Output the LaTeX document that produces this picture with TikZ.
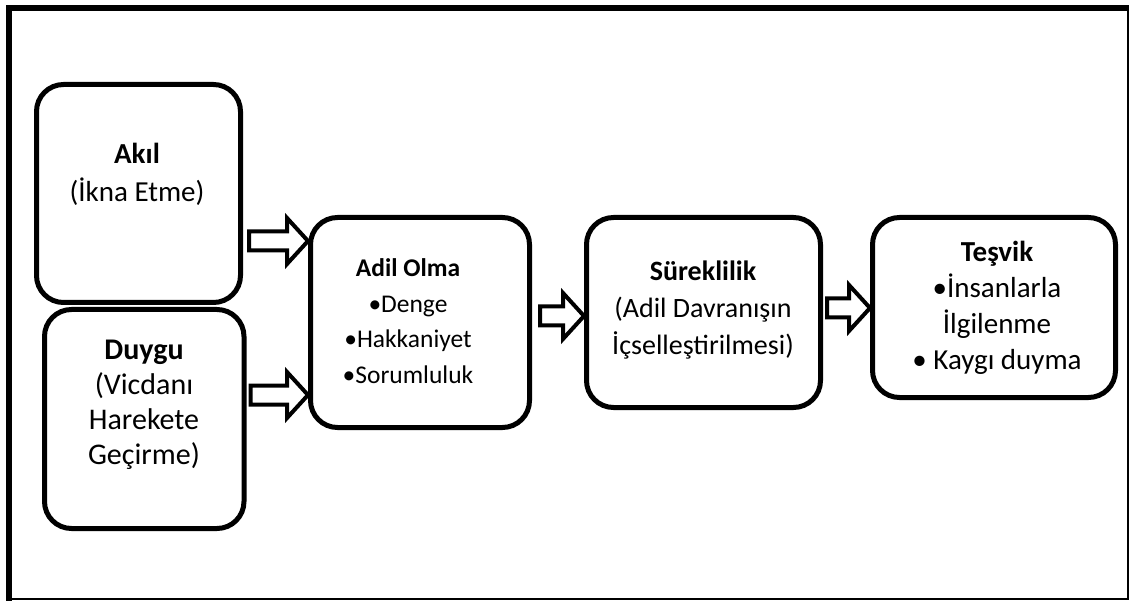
\documentclass[tikz,border=0pt]{standalone}
\usepackage{fontspec}
\setmainfont{Carlito}
\usepackage{xcolor}
\usepackage{tikz}
\usetikzlibrary{calc}
\definecolor{ink}{HTML}{000000}
\tikzset{
  box/.style      = {draw=ink, line width=5pt, rectangle, rounded corners=27pt, inner sep=0pt},
  boxtxt/.style   = {align=center, text=ink, inner sep=0pt, font=\fontsize{29}{36}\selectfont},
  fatline/.style  = {draw=ink, fill=white, line width=4pt, line join=miter},
  frame/.style    = {draw=ink, line width=6pt},
  framethin/.style= {draw=ink, line width=2pt},
}
% hollow block arrow: from #1, at its height, up to the x of #2
\newcommand{\fatarrow}[2]{%
  \draw[fatline] let \p1=(#1), \p2=(#2) in
    (\x1,\y1+9.5pt) -- (\x2-21pt,\y1+9.5pt) -- (\x2-21pt,\y1+23pt) -- (\x2,\y1)
    -- (\x2-21pt,\y1-23pt) -- (\x2-21pt,\y1-9.5pt) -- (\x1,\y1-9.5pt) -- cycle;}

\begin{document}
\begin{tikzpicture}[x=1pt, y=-1pt]
  \useasboundingbox (0,0) rectangle (1132,601);

  % frame
  \draw[frame] (9,601) -- (9,8) -- (1129,8);
  \draw[framethin] (9,599) -- (1128,599) -- (1128,8);

  % sources
  \node[box, minimum width=204pt, minimum height=218pt] (akil) at (138.5,193.5) {};
  \node[boxtxt, font=\fontsize{29}{38}\selectfont] (akiltxt) at (137,174)
    {\textbf{Akıl}\\(İkna Etme)};
  \node[box, minimum width=199.5pt, minimum height=219pt] (duygu) at (144.25,419) {};
  \node[boxtxt, font=\fontsize{30}{35}\selectfont] (duygutxt) at (144,404.5)
    {\textbf{Duygu}\\(Vicdanı\\Harekete\\Geçirme)};

  % chain
  \node[box, minimum width=219pt, minimum height=210pt] (adil) at (420,322.5) {};
  \node[boxtxt, font=\fontsize{25.5}{35.5}\selectfont] (adiltxt) at (408,321)
    {\textbf{Adil Olma}\\•Denge\\•Hakkaniyet\\•Sorumluluk};
  \node[box, minimum width=234pt, minimum height=190pt] (surek) at (703.5,312.5) {};
  \node[boxtxt, font=\fontsize{28}{37}\selectfont] (surektxt) at (703,310)
    {\textbf{Süreklilik}\\(Adil Davranışın\\İçselleştirilmesi)};
  \node[box, minimum width=243pt, minimum height=180pt] (tesvik) at (994,307.5) {};
  \node[boxtxt] (tesviktxt) at (997,307.5)
    {\textbf{Teşvik}\\•İnsanlarla\\İlgilenme\\• Kaygı duyma};

  % arrows
  \fatarrow{$(akil.east)+(6,47.5)$}{adil.west}
  \fatarrow{$(duygu.east)+(4,-24)$}{adil.west}
  \fatarrow{$(adil.east)+(8,-6.5)$}{surek.west}
  \fatarrow{$(surek.east)+(4,-4.5)$}{tesvik.west}
\end{tikzpicture}
\end{document}
